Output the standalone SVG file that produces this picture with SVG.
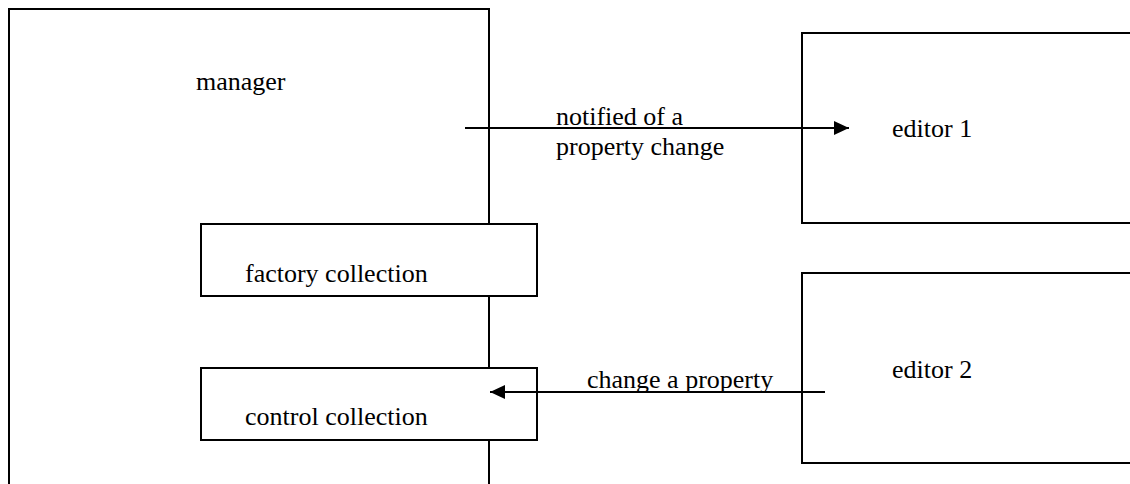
<svg xmlns="http://www.w3.org/2000/svg" width="1130" height="484" viewBox="0 0 1130 484">
<defs>
<style>
.box{fill:#fff;stroke:#000;stroke-width:2}
.ln{fill:none;stroke:#000;stroke-width:2}
.t{font-family:"Liberation Serif","Times New Roman",serif;font-size:26px;fill:#000}
</style>
<marker id="ah" markerWidth="16" markerHeight="14" refX="15" refY="7" orient="auto" markerUnits="userSpaceOnUse">
<path d="M0,0 L15,7 L0,14 Z" fill="#000"/>
</marker>
</defs>
<g id="manager">
<path class="ln" d="M9,490 L9,9 L489,9 L489,490"/>
<text class="t" x="196" y="90">manager</text>
</g>
<g id="editor1">
<path class="ln" d="M1135,33 L802,33 L802,223 L1135,223"/>
<text class="t" x="892" y="137">editor 1</text>
</g>
<g id="editor2">
<path class="ln" d="M1135,273 L802,273 L802,463 L1135,463"/>
<text class="t" x="892" y="378">editor 2</text>
</g>
<g id="factory">
<rect class="box" x="201" y="224" width="336" height="72"/>
<text class="t" x="245" y="282">factory collection</text>
</g>
<g id="control">
<rect class="box" x="201" y="368" width="336" height="72"/>
<text class="t" x="245" y="425">control collection</text>
</g>
<g id="connectors">
<line class="ln" x1="465" y1="128" x2="849" y2="128" marker-end="url(#ah)"/>
<text class="t" x="556" y="125">notified of a</text>
<text class="t" x="556" y="155">property change</text>
<line class="ln" x1="825" y1="392" x2="490" y2="392" marker-end="url(#ah)"/>
<text class="t" x="587" y="388">change a property</text>
</g>
</svg>
